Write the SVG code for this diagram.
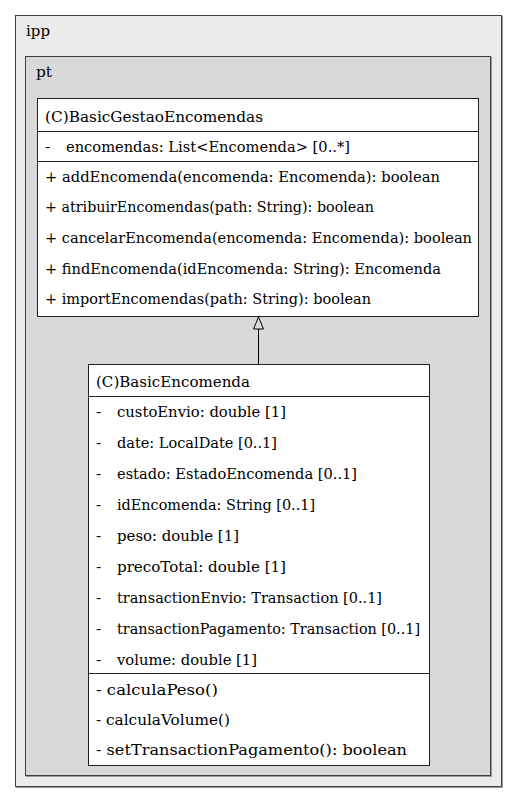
<svg xmlns="http://www.w3.org/2000/svg" width="517" height="803" viewBox="0 0 517 803">
<style>
text{font-family:'DejaVu Serif','Liberation Serif','Times New Roman',serif;font-size:15.5px;fill:#000}
.pkg{stroke:#404040;stroke-width:1}
.shadow{fill:none;stroke:#9a9a9a;stroke-width:1}
.cls{fill:#fff;stroke:#202020;stroke-width:1}
.sep{stroke:#202020;stroke-width:1}
</style>
<rect width="517" height="803" fill="#fff"/>
<g id="pkg-ipp">
<polyline class="shadow" points="502.5,16 502.5,787.5 16,787.5"/>
<rect class="pkg" x="15.5" y="15.5" width="486" height="771" fill="#ebebeb"/>
<text x="26" y="36" textLength="24" lengthAdjust="spacingAndGlyphs">ipp</text>
</g>
<g id="pkg-pt">
<polyline class="shadow" points="491.5,57 491.5,776.5 26,776.5"/>
<rect class="pkg" x="25.5" y="56.5" width="465" height="719" fill="#d9d9d9"/>
<text x="36" y="77" textLength="16" lengthAdjust="spacingAndGlyphs">pt</text>
</g>
<g id="connectors">
<line x1="258.5" y1="364" x2="258.5" y2="329" stroke="#000" stroke-width="1"/>
<polygon points="258.5,317 253.5,329 263.5,329" fill="none" stroke="#000" stroke-width="1"/>
</g>
<g id="BasicGestaoEncomendas">
<rect class="cls" x="37.5" y="98.5" width="441" height="218"/>
<line class="sep" x1="37.5" y1="131.5" x2="478.5" y2="131.5"/>
<line class="sep" x1="37.5" y1="161.5" x2="478.5" y2="161.5"/>
<text x="45" y="122" textLength="218" lengthAdjust="spacingAndGlyphs">(C)BasicGestaoEncomendas</text>
<text x="45" y="152">-</text>
<text x="66" y="152" textLength="284" lengthAdjust="spacingAndGlyphs">encomendas: List&lt;Encomenda&gt; [0..*]</text>
<text x="45" y="182" textLength="395" lengthAdjust="spacingAndGlyphs">+ addEncomenda(encomenda: Encomenda): boolean</text>
<text x="45" y="212" textLength="329" lengthAdjust="spacingAndGlyphs">+ atribuirEncomendas(path: String): boolean</text>
<text x="45" y="243" textLength="427" lengthAdjust="spacingAndGlyphs">+ cancelarEncomenda(encomenda: Encomenda): boolean</text>
<text x="45" y="274" textLength="396" lengthAdjust="spacingAndGlyphs">+ findEncomenda(idEncomenda: String): Encomenda</text>
<text x="45" y="304" textLength="326" lengthAdjust="spacingAndGlyphs">+ importEncomendas(path: String): boolean</text>
</g>
<g id="BasicEncomenda">
<rect class="cls" x="88.5" y="364.5" width="341" height="401"/>
<line class="sep" x1="88.5" y1="396.5" x2="429.5" y2="396.5"/>
<line class="sep" x1="88.5" y1="673.5" x2="429.5" y2="673.5"/>
<text x="96" y="387" textLength="154" lengthAdjust="spacingAndGlyphs">(C)BasicEncomenda</text>
<text x="96" y="417">-</text><text x="117" y="417" textLength="169" lengthAdjust="spacingAndGlyphs">custoEnvio: double [1]</text>
<text x="96" y="448">-</text><text x="117" y="448" textLength="160" lengthAdjust="spacingAndGlyphs">date: LocalDate [0..1]</text>
<text x="96" y="479">-</text><text x="117" y="479" textLength="240" lengthAdjust="spacingAndGlyphs">estado: EstadoEncomenda [0..1]</text>
<text x="96" y="510">-</text><text x="117" y="510" textLength="198" lengthAdjust="spacingAndGlyphs">idEncomenda: String [0..1]</text>
<text x="96" y="541">-</text><text x="117" y="541" textLength="122" lengthAdjust="spacingAndGlyphs">peso: double [1]</text>
<text x="96" y="572">-</text><text x="117" y="572" textLength="169" lengthAdjust="spacingAndGlyphs">precoTotal: double [1]</text>
<text x="96" y="603">-</text><text x="117" y="603" textLength="265" lengthAdjust="spacingAndGlyphs">transactionEnvio: Transaction [0..1]</text>
<text x="96" y="634">-</text><text x="117" y="634" textLength="303" lengthAdjust="spacingAndGlyphs">transactionPagamento: Transaction [0..1]</text>
<text x="96" y="665">-</text><text x="117" y="665" textLength="140" lengthAdjust="spacingAndGlyphs">volume: double [1]</text>
<text x="96" y="695" textLength="122" lengthAdjust="spacingAndGlyphs">- calculaPeso()</text>
<text x="96" y="725" textLength="134" lengthAdjust="spacingAndGlyphs">- calculaVolume()</text>
<text x="96" y="755" textLength="311" lengthAdjust="spacingAndGlyphs">- setTransactionPagamento(): boolean</text>
</g>
</svg>
